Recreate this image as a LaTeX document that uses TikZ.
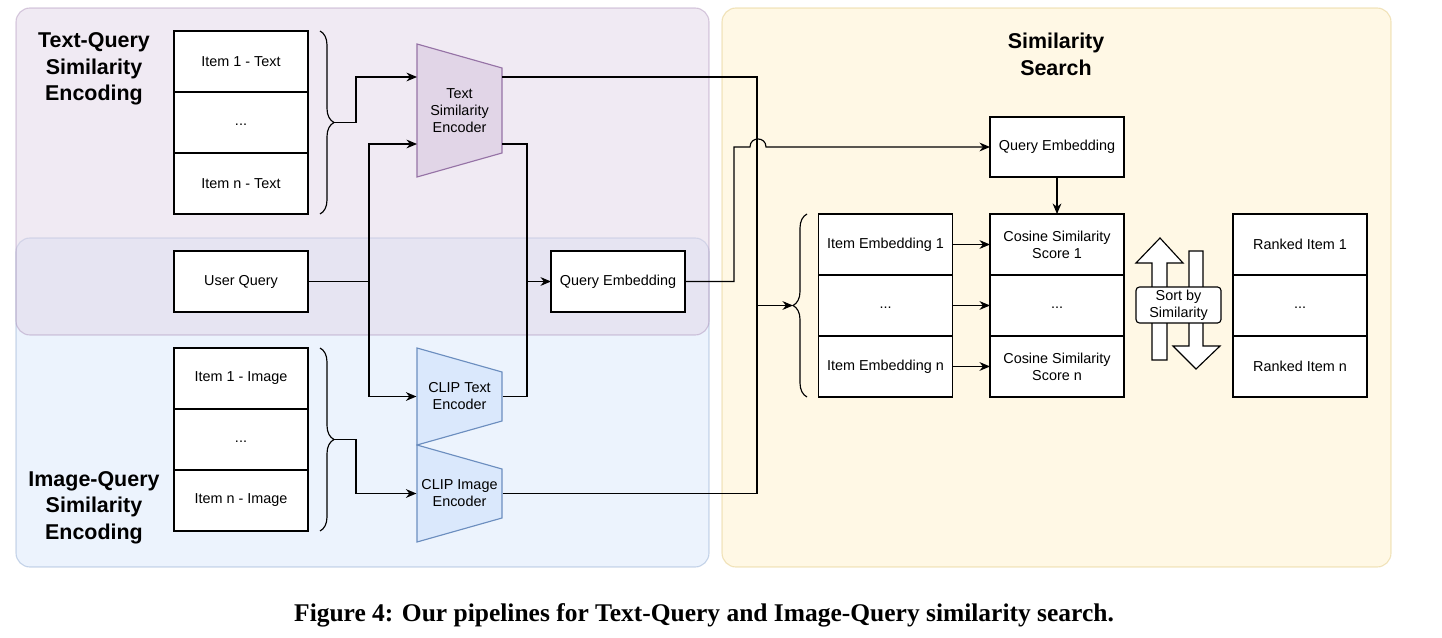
\documentclass[tikz,border=0pt]{standalone}
\usepackage{fontspec}
\setmainfont{Liberation Sans}
\newfontfamily\capfont{Liberation Serif}
\usetikzlibrary{arrows.meta,positioning,decorations.pathreplacing}
\definecolor{encpurple}{HTML}{E1D5E7}
\definecolor{encpurpleline}{HTML}{9673A6}
\definecolor{clipblue}{HTML}{DAE8FC}
\definecolor{clipblueline}{HTML}{6C8EBF}
\definecolor{searchyellow}{HTML}{FFF2CC}
\definecolor{searchyellowline}{HTML}{D6B656}

\begin{document}
\begin{tikzpicture}[x=0.02cm, y=-0.02cm, line width=0.65pt,
  every node/.style = {font=\fontsize{8.2}{9.7}\selectfont, align=center, inner sep=1pt},
  cell/.style = {draw, fill=white, outer sep=0pt, minimum width=2.68cm, minimum height=1.22cm},
  panel/.style = {rounded corners=0.28cm, fill opacity=0.5, draw opacity=0.35},
  title/.style = {font=\fontsize{12.2}{15.2}\selectfont\bfseries},
  enclabel/.style = {minimum width=1.7cm, inner sep=0pt},
  arr/.style = {-{Stealth[length=6pt,width=5pt]}},
  curly/.style = {decorate, decoration={brace, amplitude=0.28cm}},
  bigarrow/.style = {draw, fill=white, line join=miter}]
  \useasboundingbox (0,0) rectangle (1442,638);

  \draw[panel, fill=clipblue, draw=clipblueline] (16,238) rectangle (709,567);
  \draw[panel, fill=encpurple, draw=encpurpleline] (16,8) rectangle (709,335);
  \draw[panel, fill=searchyellow, draw=searchyellowline] (722,8) rectangle (1391,567);

  \node[title] (tqtitle) at (94,69) {Text-Query\\Similarity\\Encoding};
  \node[title] (iqtitle) at (94,507.5) {Image-Query\\Similarity\\Encoding};
  \node[title] (sstitle) at (1056,54) {Similarity\\Search};

  \node[cell] (txt1) at (241,61.5) {Item 1 - Text};
  \node[cell, below=0pt of txt1] (txt2) {\vphantom{Ig}...};
  \node[cell, below=0pt of txt2] (txtn) {Item n - Text};
  \node[cell] (uq) at (241,281.5) {User Query};
  \node[cell] (img1) at (241,378.5) {Item 1 - Image};
  \node[cell, below=0pt of img1] (img2) {\vphantom{Ig}...};
  \node[cell, below=0pt of img2] (imgn) {Item n - Image};
  \node[cell] (qe) at (618,281.5) {Query Embedding};

  \draw[curly] (320,31) -- (320,214);
  \draw[curly] (320,348) -- (320,531);
  \draw[curly] (807,397) -- (807,214);
  \coordinate (tbrace) at (334,122.5);
  \coordinate (ibrace) at (334,439.5);
  \coordinate (ebrace) at (793,305.5);

  \draw[fill=encpurple, draw=encpurpleline] (417,44) -- (502,68) -- (502,153) -- (417,177) -- cycle;
  \draw[fill=clipblue, draw=clipblueline] (417,348) -- (502,372) -- (502,421) -- (417,445) -- cycle;
  \draw[fill=clipblue, draw=clipblueline] (417,445) -- (502,469) -- (502,518) -- (417,542) -- cycle;
  \node[enclabel] (tse) at (459.5,110.5) {Text\\Similarity\\Encoder};
  \node[enclabel] (cte) at (459.5,396.5) {CLIP Text\\Encoder};
  \node[enclabel] (cie) at (459.5,493.5) {CLIP Image\\Encoder};
  \coordinate (tsein1) at (417,77);
  \coordinate (tsein2) at (417,144);
  \coordinate (tseout1) at (502,77);
  \coordinate (tseout2) at (502,144);
  \coordinate (qjoin) at (527,281.5);
  \coordinate (encjoin) at (757,305.5);

  \node[cell, minimum height=1.2cm] (qe2) at (1057,147) {Query Embedding};
  \node[cell] (emb1) at (885.5,244.5) {Item Embedding 1};
  \node[cell, below=0pt of emb1] (emb2) {\vphantom{Ig}...};
  \node[cell, below=0pt of emb2] (embn) {Item Embedding n};
  \node[cell] (cos1) at (1057,244.5) {Cosine Similarity\\Score 1};
  \node[cell, below=0pt of cos1] (cos2) {\vphantom{Ig}...};
  \node[cell, below=0pt of cos2] (cosn) {Cosine Similarity\\Score n};
  \node[cell] (rank1) at (1300,244.5) {Ranked Item 1};
  \node[cell, below=0pt of rank1] (rank2) {\vphantom{Ig}...};
  \node[cell, below=0pt of rank2] (rankn) {Ranked Item n};

  \draw[arr] (tbrace) -- ++(22,0) |- (tsein1);
  \draw[arr] (uq.east) -- ++(61,0) |- (tsein2);
  \draw[arr] (uq.east) -- ++(61,0) |- (cte.west);
  \draw[arr] (ibrace) -- ++(22,0) |- (cie.west);
  \draw (tseout2) -| (qjoin);
  \draw (cte.east) -| (qjoin);
  \draw[arr] (qjoin) -- (qe.west);
  \draw (tseout1) -| (encjoin);
  \draw (cie.east) -| (encjoin);
  \draw[arr] (encjoin) -- (ebrace);
  \coordinate (hopstart) at (750,147);
  \coordinate (hopend) at (766,147);
  \draw[arr] (qe.east) -| (hopstart -| 734,0) -- (hopstart)
    .. controls (750,136.3) and (766,136.3) .. (hopend) -- (qe2.west);
  \draw[arr] (qe2.south) -- (cos1.north);
  \draw[arr] (emb1.east) -- (cos1.west);
  \draw[arr] (emb2.east) -- (cos2.west);
  \draw[arr] (embn.east) -- (cosn.west);

  \draw[bigarrow] (1160,238) -- (1183,263) -- (1167,263) -- (1167,360) -- (1152,360) -- (1152,263) -- (1136,263) -- cycle;
  \draw[bigarrow] (1196,369) -- (1220,346) -- (1203,346) -- (1203,251) -- (1189,251) -- (1189,346) -- (1173,346) -- cycle;
  \node[draw, fill=white, rounded corners=2pt, minimum width=1.7cm, minimum height=0.72cm] (sort) at (1178.5,305) {Sort by\\Similarity};

  \node[font=\capfont\bfseries\fontsize{14.5}{17}\selectfont] (caption) at (704,615) {Figure 4: Our pipelines for Text-Query and Image-Query similarity search.};
\end{tikzpicture}
\end{document}
